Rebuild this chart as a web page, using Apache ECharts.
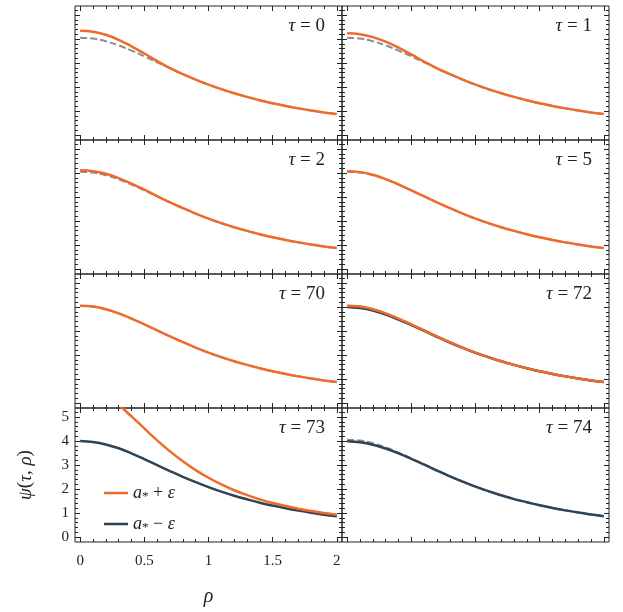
<!DOCTYPE html>
<html><head><meta charset="utf-8">
<script src="https://cdn.jsdelivr.net/npm/echarts@6/dist/echarts.min.js"></script>
<style>html,body{margin:0;padding:0;background:#fff}#c{width:623px;height:612px}</style>
</head><body><div id="c"></div><script>
// ---- data ----
const rho = [0,0.1,0.2,0.3,0.4,0.5,0.6,0.7,0.8,0.9,1.0,1.1,1.2,1.3,1.4,1.5,1.6,1.7,1.8,1.9,2.0];
const tauLabels = ['0','1','2','5','70','72','73','74'];
// critical solution (dashed gray)
const critical = [4.06,4.02,3.91,3.74,3.52,3.28,3.03,2.78,2.54,2.31,2.10,1.91,1.74,1.59,1.45,1.32,1.21,1.11,1.02,0.94,0.87];
// a* + eps (orange)
const plusT0  = [4.35,4.31,4.18,3.97,3.70,3.40,3.08,2.79,2.54,2.31,2.10,1.91,1.74,1.59,1.45,1.32,1.21,1.11,1.02,0.94,0.87];
const plusT1  = [4.24,4.20,4.08,3.89,3.64,3.36,3.06,2.78,2.54,2.31,2.10,1.91,1.74,1.59,1.45,1.32,1.21,1.11,1.02,0.94,0.87];
const plusT2  = [4.12,4.08,3.97,3.79,3.56,3.31,3.04,2.78,2.54,2.31,2.10,1.91,1.74,1.59,1.45,1.32,1.21,1.11,1.02,0.94,0.87];
const plusT5  = [4.08,4.04,3.93,3.75,3.53,3.28,3.03,2.78,2.54,2.31,2.10,1.91,1.74,1.59,1.45,1.32,1.21,1.11,1.02,0.94,0.87];
const plusT70 = [4.06,4.02,3.91,3.74,3.52,3.28,3.03,2.78,2.54,2.31,2.10,1.91,1.74,1.59,1.45,1.32,1.21,1.11,1.02,0.94,0.87];
const plusT72 = [4.06,4.02,3.91,3.74,3.52,3.28,3.03,2.78,2.54,2.31,2.10,1.91,1.74,1.59,1.45,1.32,1.21,1.11,1.02,0.94,0.87];
const plusT73 = [6.27,6.18,5.91,5.51,5.03,4.53,4.03,3.57,3.16,2.79,2.47,2.19,1.95,1.75,1.57,1.42,1.29,1.18,1.08,1.00,0.93];
// a* - eps (dark)
const minusT72 = [4.00,3.96,3.86,3.69,3.48,3.25,3.01,2.76,2.52,2.30,2.09,1.91,1.74,1.59,1.45,1.32,1.21,1.11,1.02,0.94,0.87];
const minusT73 = [4.00,3.96,3.86,3.70,3.49,3.25,3.00,2.75,2.51,2.29,2.08,1.89,1.72,1.57,1.43,1.31,1.20,1.10,1.01,0.93,0.86];
const minusT74 = [3.99,3.95,3.85,3.69,3.49,3.26,3.02,2.77,2.53,2.31,2.10,1.91,1.74,1.58,1.45,1.32,1.21,1.11,1.02,0.94,0.86];
// ticks
const xTicks = [0,0.5,1,1.5,2];
const xMinorTicks = [0.1,0.2,0.3,0.4,0.6,0.7,0.8,0.9,1.1,1.2,1.3,1.4,1.6,1.7,1.8,1.9];
const yTicks = [0,1,2,3,4,5];
const yMinorTicks = [0.2,0.4,0.6,0.8,1.2,1.4,1.6,1.8,2.2,2.4,2.6,2.8,3.2,3.4,3.6,3.8,4.2,4.4,4.6,4.8,5.2];

const panels = [
  {tau:tauLabels[0], dashed:true,  plus:plusT0,  minus:null},
  {tau:tauLabels[1], dashed:true,  plus:plusT1,  minus:null},
  {tau:tauLabels[2], dashed:true,  plus:plusT2,  minus:null},
  {tau:tauLabels[3], dashed:true,  plus:plusT5,  minus:null},
  {tau:tauLabels[4], dashed:true,  plus:plusT70, minus:null},
  {tau:tauLabels[5], dashed:true,  plus:plusT72, minus:minusT72},
  {tau:tauLabels[6], dashed:false, plus:plusT73, minus:minusT73},
  {tau:tauLabels[7], dashed:true,  plus:null,    minus:minusT74}
];

// ---- layout / style ----
const colLeft = [75, 342], rowTop = [6, 140, 274, 408], PW = 267, PH = 134;
const XMIN = -0.04, XMAX = 2.04, YMIN = -0.21, YMAX = 5.38;
const ORANGE = '#EE6B2B', DARK = '#2E4356', GRAY = '#8c8c8c', FRAME = '#222';
const SERIF = '"Liberation Serif", "DejaVu Serif", serif';

const pairs = arr => rho.map((r, k) => [r, arr[k]]);

const grid = [], xAxis = [], yAxis = [], series = [], graphic = [];
panels.forEach((p, i) => {
  const r = Math.floor(i / 2), c = i % 2;
  grid.push({left: colLeft[c], top: rowTop[r], width: PW, height: PH, show: true,
    borderColor: FRAME, borderWidth: 1, backgroundColor: 'transparent'});
  const isLab = (i === 6);
  ['bottom', 'top'].forEach(pos => {
    [true, false].forEach(major => {
      const showLab = isLab && pos === 'bottom' && major;
      const ax = {gridIndex: i, type: 'value', min: XMIN, max: XMAX, position: pos,
        axisLine: {show: false, onZero: false}, splitLine: {show: false},
        axisTick: {show: true, inside: true, length: major ? 5 : 3, customValues: major ? xTicks : xMinorTicks,
          lineStyle: {color: FRAME, width: 1}},
        axisLabel: {show: showLab, customValues: xTicks}};
      if (showLab) {
        Object.assign(ax.axisLabel, {margin: 12, fontFamily: SERIF, fontSize: 15, color: '#222', formatter: v => String(v)});
        Object.assign(ax, {name: 'ρ', nameLocation: 'middle', nameGap: 45,
          nameTextStyle: {fontFamily: SERIF, fontStyle: 'italic', fontSize: 20, color: '#222'}});
      }
      xAxis.push(ax);
    });
  });
  ['left', 'right'].forEach(pos => {
    [true, false].forEach(major => {
      const showLab = isLab && pos === 'left' && major;
      const ax = {gridIndex: i, type: 'value', min: YMIN, max: YMAX, position: pos,
        axisLine: {show: false, onZero: false}, splitLine: {show: false},
        axisTick: {show: true, inside: true, length: major ? 5 : 3, customValues: major ? yTicks : yMinorTicks,
          lineStyle: {color: FRAME, width: 1}},
        axisLabel: {show: showLab, customValues: yTicks}};
      if (showLab) {
        Object.assign(ax.axisLabel, {margin: 6, fontFamily: SERIF, fontSize: 15, color: '#222', formatter: v => String(v)});
        Object.assign(ax, {name: '{i|ψ}{n|(}{i|τ}{n|, }{i|ρ}{n|)}', nameLocation: 'middle', nameGap: 40,
          nameTextStyle: {color: '#222', rich: {
            i: {fontFamily: SERIF, fontStyle: 'italic', fontSize: 19, color: '#222'},
            n: {fontFamily: SERIF, fontSize: 19, color: '#222'}}}});
      }
      yAxis.push(ax);
    });
  });
  const xi = i * 4, yi = i * 4;
  if (p.dashed) series.push({type: 'line', name: 'crit' + i, xAxisIndex: xi, yAxisIndex: yi,
    data: pairs(critical), showSymbol: false, symbol: 'none', smooth: 0.4, silent: true,
    lineStyle: {color: GRAY, width: 2, type: [7, 3]}});
  if (p.minus) series.push({type: 'line', name: i === 6 ? 'minus73' : 'minus' + i, xAxisIndex: xi, yAxisIndex: yi,
    data: pairs(p.minus), showSymbol: false, symbol: 'none', smooth: 0.4, silent: true,
    lineStyle: {color: DARK, width: 2.5}, itemStyle: {color: DARK}});
  if (p.plus) series.push({type: 'line', name: i === 6 ? 'plus73' : 'plus' + i, xAxisIndex: xi, yAxisIndex: yi,
    data: pairs(p.plus), showSymbol: false, symbol: 'none', smooth: 0.4, silent: true,
    lineStyle: {color: ORANGE, width: 2.5}, itemStyle: {color: ORANGE}});
  graphic.push({type: 'text', x: colLeft[c] + PW - 17, y: rowTop[r] + 20, silent: true,
    style: {text: '{i|τ}{n| = ' + p.tau + '}', align: 'right', verticalAlign: 'middle',
      rich: {i: {fontFamily: SERIF, fontStyle: 'italic', fontSize: 19, fill: '#222'},
             n: {fontFamily: SERIF, fontSize: 19, fill: '#222'}}}});
});

const legendRich = {
  i: {fontFamily: SERIF, fontStyle: 'italic', fontSize: 18, color: '#222', lineHeight: 20},
  s: {fontFamily: SERIF, fontSize: 13, color: '#222', lineHeight: 20, verticalAlign: 'bottom'},
  n: {fontFamily: SERIF, fontSize: 18, color: '#222', lineHeight: 20}
};

const chart = echarts.init(document.getElementById('c'), null, {renderer: 'canvas'});
chart.setOption({
  animation: false,
  backgroundColor: '#fff',
  grid, xAxis, yAxis, series, graphic,
  legend: {data: ['plus73', 'minus73'], orient: 'vertical', left: 104, top: 484, padding: 0,
    itemWidth: 24, itemHeight: 2.5, itemGap: 12, icon: 'rect', selectedMode: false,
    formatter: n => n === 'plus73' ? '{i|a}{s|*}{n| + }{i|ε}' : '{i|a}{s|*}{n| − }{i|ε}',
    textStyle: {rich: legendRich}}
});
</script></body></html>
